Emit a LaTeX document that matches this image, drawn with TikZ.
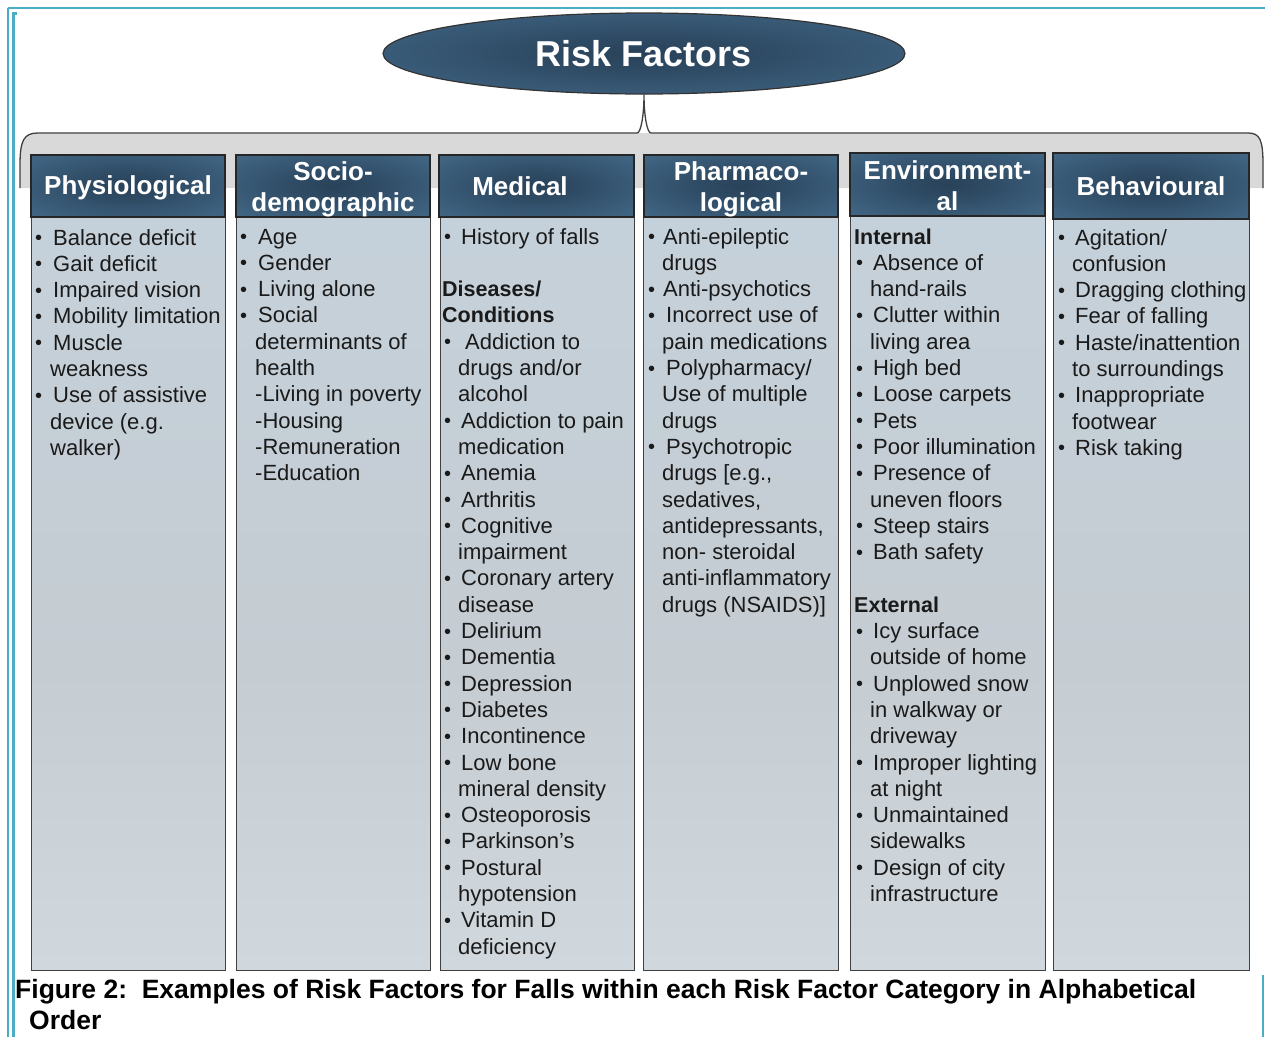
\documentclass[tikz,border=0pt]{standalone}
\usepackage{fontspec}
\setmainfont{Liberation Sans}
\usetikzlibrary{shapes.geometric}
\definecolor{frameteal}{HTML}{4BACC6}
\definecolor{hdin}{HTML}{29425A}
\definecolor{hdout}{HTML}{4C7899}
\definecolor{bdtop}{HTML}{C5D5E1}
\definecolor{bdmid}{HTML}{C5CCD2}
\definecolor{bdbot}{HTML}{DFE6EB}
\definecolor{bandgray}{HTML}{D9D9D9}
\definecolor{txtc}{HTML}{1A1A1A}
\pgfdeclareradialshading{hdsh}{\pgfpoint{0bp}{0bp}}{color(0bp)=(hdin); color(10bp)=(hdin!85!hdout); color(50bp)=(hdout); color(75bp)=(hdout)}
\pgfdeclareverticalshading{bdsh}{100bp}{color(0bp)=(bdbot); color(45bp)=(bdmid); color(100bp)=(bdtop)}
\newlength\bo
\newlength\co
\newcommand\bl[1]{\makebox[\bo][l]{\raisebox{0.5pt}{\fontsize{20}{20}\selectfont •}}#1}
\newcommand\ct[1]{\hspace*{\co}#1}
\newcommand\hdg[1]{\hspace*{-2pt}{\bfseries\fontsize{21.5}{26.3}\selectfont #1}}
\begin{document}
\begin{tikzpicture}[x=1pt,y=-1pt,
  frame/.style={draw=frameteal},
  hdbox/.style={draw=black!85, line width=1.6pt, shading=hdsh, inner sep=0pt},
  hdtext/.style={text=white, align=center, font=\bfseries\fontsize{26}{31}\selectfont, inner sep=0pt},
  bodybox/.style={draw=black!75, line width=1.3pt, shading=bdsh, anchor=north west, inner sep=0pt},
  coltext/.style={anchor=base west, inner sep=0pt, text=txtc},
  capt/.style={anchor=base west, inner sep=0pt, text=black, font=\bfseries\fontsize{26.5}{31}\selectfont}
]
\useasboundingbox (0,0) rectangle (1265,1037);
\fill[white] (0,0) rectangle (1265,1037);
% frame
\draw[frame, line width=2.5pt] (8,8) -- (1265,8);
\draw[frame, line width=2pt] (8,8) -- (8,1037);
\draw[frame, line width=3.2pt] (17,13.5) -- (13.5,13.5) -- (13.5,1037);
\draw[frame, line width=2pt] (1263,975) -- (1263,1037);
% title ellipse
\node[ellipse, draw=black!80, line width=1.2pt, shading=hdsh, minimum width=522pt, minimum height=81pt,
  text=white, font=\bfseries\fontsize{36}{40}\selectfont, inner sep=0pt] (rf) at (644,53.5) {Risk Factors};
% brace band
\fill[bandgray] (20,188) -- (20,165) .. controls (20,140) and (24,133) .. (38,133) -- (1248,133)
  .. controls (1260,133) and (1263,140) .. (1263,165) -- (1263,188) -- cycle;
\draw[black!75, line width=1.3pt] (20,188) -- (20,165) .. controls (20,140) and (24,133) .. (38,133) -- (637,133)
  .. controls (641,133) and (644,115) .. (rf.south)
  .. controls (644,115) and (647,133) .. (651,133) -- (1248,133)
  .. controls (1260,133) and (1263,140) .. (1263,165) -- (1263,188);
% body boxes
\node[bodybox, minimum width=194pt, minimum height=753pt] (b1) at (31,217) {};
\node[bodybox, minimum width=194pt, minimum height=753pt] (b2) at (236,217) {};
\node[bodybox, minimum width=194pt, minimum height=753pt] (b3) at (440,217) {};
\node[bodybox, minimum width=195pt, minimum height=753pt] (b4) at (643,217) {};
\node[bodybox, minimum width=195pt, minimum height=754pt] (b5) at (850,216) {};
\node[bodybox, minimum width=196pt, minimum height=751pt] (b6) at (1053,219) {};
% headers
\node[hdbox, minimum width=194pt, minimum height=62pt] (h1) at (128,186) {};
\node[hdbox, minimum width=194pt, minimum height=62pt] (h2) at (333,186) {};
\node[hdbox, minimum width=195pt, minimum height=62pt] (h3) at (536.5,186) {};
\node[hdbox, minimum width=194pt, minimum height=62pt] (h4) at (741,186) {};
\node[hdbox, minimum width=195pt, minimum height=63pt] (h5) at (947.5,184.5) {};
\node[hdbox, minimum width=196pt, minimum height=66pt] (h6) at (1151,186) {};
\node[hdtext] (l1) at ([yshift=-2pt]h1.center) {Physiological};
\node[hdtext] (l2) at ([yshift=-3pt]h2.center) {Socio-\\demographic};
\node[hdtext] (l3) at ([xshift=-16.5pt]h3.center) {Medical};
\node[hdtext] (l4) at ([yshift=-3.5pt]h4.center) {Pharmaco-\\logical};
\node[hdtext] (l5) at ([yshift=-1pt]h5.center) {Environment-\\al};
\node[hdtext] (l6) at (h6.center) {Behavioural};
% column texts
\node[coltext] (t1) at (35,245) {\parbox[t]{300pt}{\fontsize{22}{26.3}\selectfont\setlength\bo{18pt}\setlength\co{15pt}%
\bl{Balance deficit}\\\bl{Gait deficit}\\\bl{Impaired vision}\\\bl{Mobility limitation}\\\bl{Muscle}\\\ct{weakness}\\\bl{Use of assistive}\\\ct{device (e.g.}\\\ct{walker)}}};
\node[coltext] (t2) at (240,244) {\parbox[t]{300pt}{\fontsize{22}{26.3}\selectfont\setlength\bo{18pt}\setlength\co{15pt}%
\bl{Age}\\\bl{Gender}\\\bl{Living alone}\\\bl{Social}\\\ct{determinants of}\\\ct{health}\\\ct{-Living in poverty}\\\ct{-Housing}\\\ct{-Remuneration}\\\ct{-Education}}};
\node[coltext] (t3) at (444,244) {\parbox[t]{300pt}{\fontsize{22}{26.3}\selectfont\setlength\bo{17pt}\setlength\co{14pt}%
\bl{History of falls}\\\mbox{}\\\hdg{Diseases/}\\\hdg{Conditions}\\\bl{\hspace*{4pt}Addiction to}\\\ct{drugs and/or}\\\ct{alcohol}\\\bl{Addiction to pain}\\\ct{medication}\\\bl{Anemia}\\\bl{Arthritis}\\\bl{Cognitive}\\\ct{impairment}\\\bl{Coronary artery}\\\ct{disease}\\\bl{Delirium}\\\bl{Dementia}\\\bl{Depression}\\\bl{Diabetes}\\\bl{Incontinence}\\\bl{Low bone}\\\ct{mineral density}\\\bl{Osteoporosis}\\\bl{Parkinson’s}\\\bl{Postural}\\\ct{hypotension}\\\bl{Vitamin D}\\\ct{deficiency}}};
\node[coltext] (t4) at (648,244) {\parbox[t]{300pt}{\fontsize{22}{26.3}\selectfont\setlength\bo{15pt}\setlength\co{14pt}%
\bl{Anti-epileptic}\\\ct{drugs}\\\bl{Anti-psychotics}\\\bl{\hspace*{3pt}Incorrect use of}\\\ct{pain medications}\\\bl{\hspace*{3pt}Polypharmacy/}\\\ct{Use of multiple}\\\ct{drugs}\\\bl{\hspace*{3pt}Psychotropic}\\\ct{drugs [e.g.,}\\\ct{sedatives,}\\\ct{antidepressants,}\\\ct{non- steroidal}\\\ct{anti-inflammatory}\\\ct{drugs (NSAIDS)]}}};
\node[coltext] (t5) at (856,244) {\parbox[t]{300pt}{\fontsize{22}{26.3}\selectfont\setlength\bo{17pt}\setlength\co{14pt}%
\hdg{Internal}\\\bl{Absence of}\\\ct{hand-rails}\\\bl{Clutter within}\\\ct{living area}\\\bl{High bed}\\\bl{Loose carpets}\\\bl{Pets}\\\bl{Poor illumination}\\\bl{Presence of}\\\ct{uneven floors}\\\bl{Steep stairs}\\\bl{Bath safety}\\\mbox{}\\\hdg{External}\\\bl{Icy surface}\\\ct{outside of home}\\\bl{Unplowed snow}\\\ct{in walkway or}\\\ct{driveway}\\\bl{Improper lighting}\\\ct{at night}\\\bl{Unmaintained}\\\ct{sidewalks}\\\bl{Design of city}\\\ct{infrastructure}}};
\node[coltext] (t6) at (1058,245) {\parbox[t]{300pt}{\fontsize{22}{26.3}\selectfont\setlength\bo{17pt}\setlength\co{14pt}%
\bl{Agitation/}\\\ct{confusion}\\\bl{Dragging clothing}\\\bl{Fear of falling}\\\bl{Haste/inattention}\\\ct{to surroundings}\\\bl{Inappropriate}\\\ct{footwear}\\\bl{Risk taking}}};
% caption
\node[capt] (cap1) at (15,998) {Figure 2:\ \ Examples of Risk Factors for Falls within each Risk Factor Category in Alphabetical};
\node[capt] (cap2) at (29,1029) {Order};
\end{tikzpicture}
\end{document}
